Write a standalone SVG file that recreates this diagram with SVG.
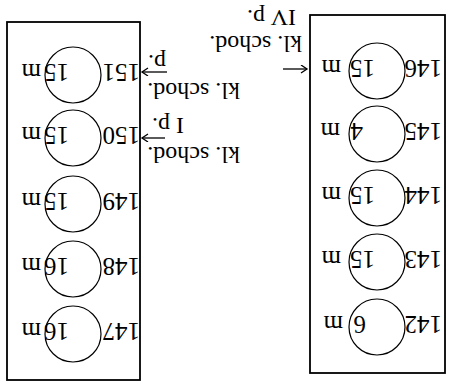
<svg xmlns="http://www.w3.org/2000/svg" width="454" height="383" viewBox="0 0 454 383">
<style>
text{font-family:"Liberation Serif","Times New Roman",serif;font-size:25px;fill:#000}
.ann{font-size:24px}
.box{fill:none;stroke:#000;stroke-width:1.8}
.c{fill:none;stroke:#000;stroke-width:1.2}
.arr{stroke:#000;stroke-width:1.3;fill:none;marker-end:url(#ah)}
</style>
<defs>
<marker id="ah" markerUnits="userSpaceOnUse" markerWidth="10" markerHeight="10" refX="7" refY="4" orient="auto">
<path d="M1,0 L7,4 L1,8" fill="none" stroke="#000" stroke-width="1.3"/>
</marker>
</defs>
<rect width="454" height="383" fill="#fff"/>
<g transform="rotate(180 227 191.5)">
<g id="box-left"><rect class="box" x="9" y="10" width="135" height="358"/></g>
<g id="box-right"><rect class="box" x="314" y="3" width="133" height="358"/></g>
<g id="n142"><circle class="c" cx="77" cy="56" r="28"/><text x="12" y="67">142</text><text y="67"><tspan x="88">6</tspan><tspan x="111">m</tspan></text></g>
<g id="n143"><circle class="c" cx="77" cy="121" r="28"/><text x="12" y="132">143</text><text y="132"><tspan x="79">15</tspan><tspan x="113">m</tspan></text></g>
<g id="n144"><circle class="c" cx="77" cy="185" r="28"/><text x="12" y="196">144</text><text y="196"><tspan x="79">15</tspan><tspan x="113">m</tspan></text></g>
<g id="n145"><circle class="c" cx="77" cy="249" r="28"/><text x="12" y="260">145</text><text y="260"><tspan x="91">4</tspan><tspan x="114">m</tspan></text></g>
<g id="n146"><circle class="c" cx="77" cy="312" r="28"/><text x="12" y="323">146</text><text y="323"><tspan x="79">15</tspan><tspan x="113">m</tspan></text></g>
<g id="n147"><circle class="c" cx="381" cy="49" r="28"/><text x="314" y="60">147</text><text y="60"><tspan x="385">16</tspan><tspan x="413">m</tspan></text></g>
<g id="n148"><circle class="c" cx="381" cy="114" r="28"/><text x="314" y="125">148</text><text y="125"><tspan x="385">16</tspan><tspan x="413">m</tspan></text></g>
<g id="n149"><circle class="c" cx="381" cy="179" r="28"/><text x="314" y="190">149</text><text y="190"><tspan x="385">15</tspan><tspan x="413">m</tspan></text></g>
<g id="n150"><circle class="c" cx="381" cy="245" r="28"/><text x="314" y="256">150</text><text y="256"><tspan x="385">15</tspan><tspan x="413">m</tspan></text></g>
<g id="n151"><circle class="c" cx="381" cy="308" r="28"/><text x="314" y="319">151</text><text y="319"><tspan x="385">15</tspan><tspan x="413">m</tspan></text></g>
<g id="label-iv"><text class="ann" x="152" y="347">kl. schod.</text><text class="ann" x="158" y="373">IV p.</text></g>
<g id="label-i"><text class="ann" x="214" y="236">kl. schod.</text><text class="ann" x="270" y="265">I p.</text></g>
<g id="label-p"><text class="ann" x="214" y="300">kl. schod.</text><text class="ann" x="288" y="328">p.</text></g>
<g id="connectors">
<line class="arr" x1="171" y1="314" x2="147" y2="314"/>
<line class="arr" x1="289" y1="245" x2="312" y2="245"/>
<line class="arr" x1="287" y1="311" x2="312" y2="311"/>
</g>
</g>
</svg>
